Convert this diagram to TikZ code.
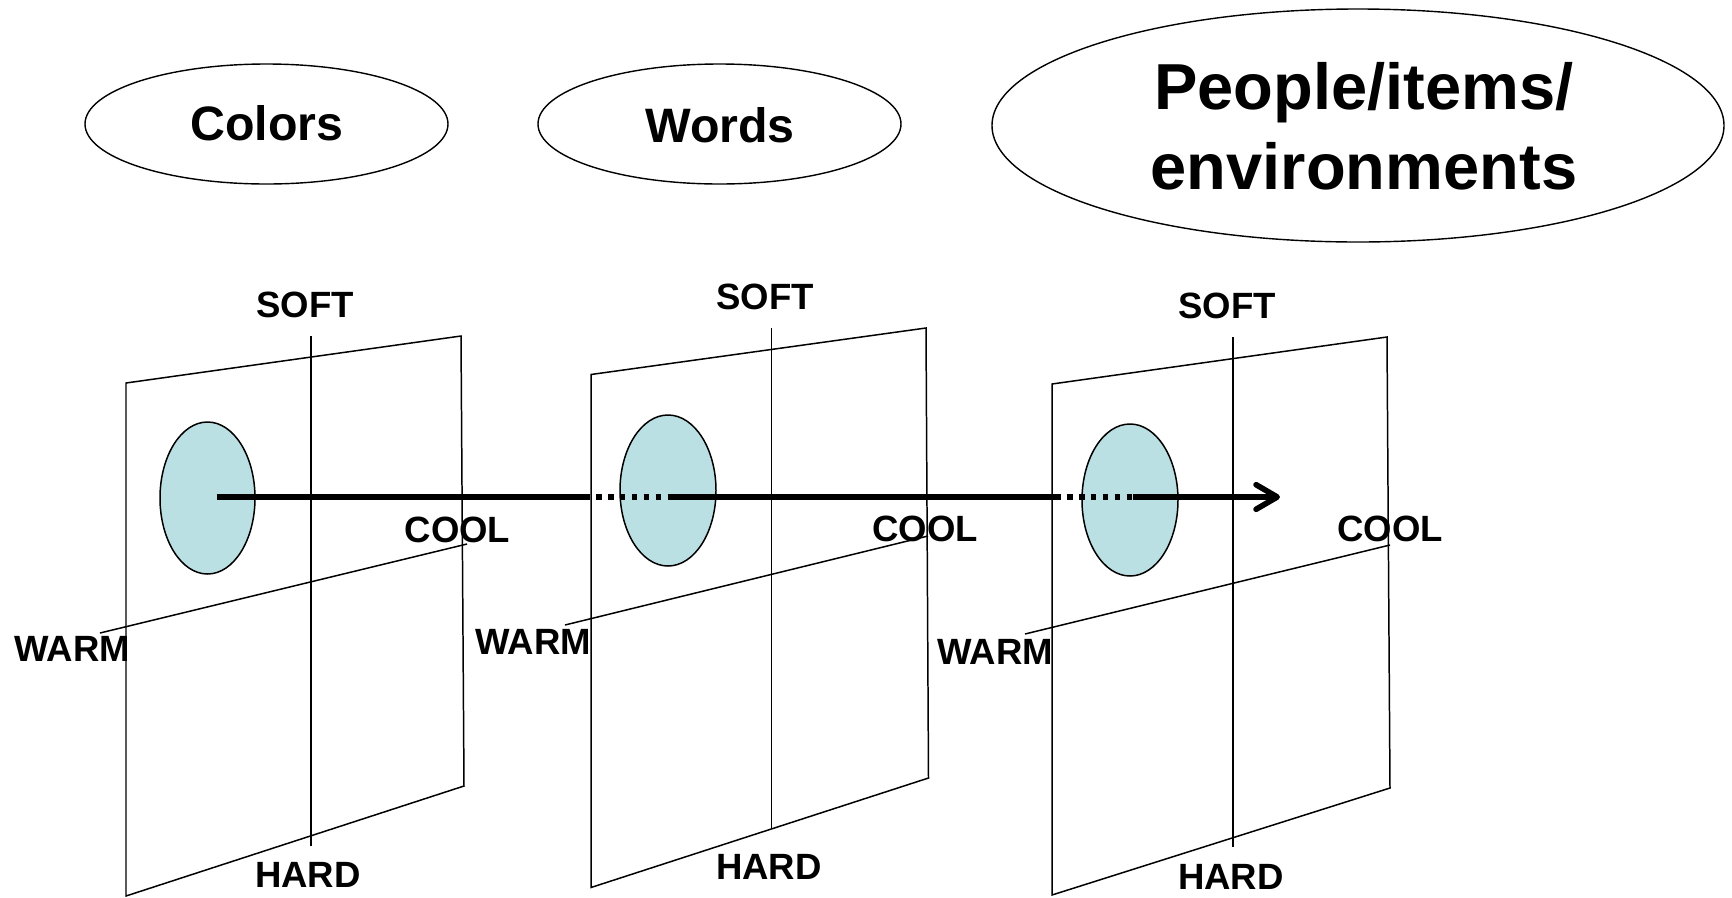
\documentclass[tikz,border=0pt]{standalone}
\usepackage{fontspec}
\setmainfont{Liberation Sans}
\usetikzlibrary{arrows.meta}
\definecolor{dotblue}{RGB}{187,224,227}

\begin{document}
\begin{tikzpicture}[scale=0.2]
\tikzstyle{every node}+=[inner sep=0pt]
\tikzstyle{axislabel}=[font=\fontsize{20.8}{25}\selectfont\bfseries]
\tikzstyle{topic}=[font=\fontsize{27.5}{33}\selectfont\bfseries]
\tikzstyle{bigtopic}=[font=\fontsize{37}{45.5}\selectfont\bfseries, align=center]
\tikzstyle{plane}=[black, line width=0.85pt]
\tikzstyle{blob}=[black, line width=0.85pt, fill=dotblue]
\tikzstyle{track}=[black, line width=3.2pt]
\tikzstyle{gap}=[black, line width=3.2pt, dash pattern=on 3.2pt off 3.6pt]
\useasboundingbox (0,0) rectangle (173.2,-89.7);
% topics
\draw [black, line width=0.8pt] (26.65,-12.4) ellipse (18.15 and 6);
\draw (26.7,-12.35) node [topic] (colors) {Colors};
\draw [black, line width=0.8pt] (71.95,-12.4) ellipse (18.15 and 6);
\draw (72.0,-12.55) node [topic] (words) {Words};
\draw [black, line width=0.8pt] (135.8,-12.55) ellipse (36.6 and 11.65);
\draw (136.4,-12.6) node [bigtopic] (people) {People/items/\\environments};
% plane 1
\draw [plane] (12.6,-38.3) -- (46.1,-33.6) -- (46.4,-78.6) -- (12.6,-89.6) -- cycle;
\draw [plane] (31.1,-33.6) -- (31.1,-84.6);
\draw [plane] (10.0,-63.3) -- (46.7,-54.4);
\draw [blob] (20.75,-49.8) ellipse (4.75 and 7.6);
\draw (30.5,-30.5) node [axislabel] (soft1) {SOFT};
\draw (45.75,-52.95) node [axislabel] (cool1) {COOL};
\draw (7.2,-64.85) node [axislabel] (warm1) {WARM};
\draw (30.8,-87.45) node [axislabel] (hard1) {HARD};
% plane 2
\draw [plane] (59.1,-37.45) -- (92.6,-32.8) -- (92.85,-77.8) -- (59.1,-88.75) -- cycle;
\draw [plane] (77.15,-32.8) -- (77.15,-82.8);
\draw [plane] (56.5,-62.5) -- (92.8,-53.6);
\draw [blob] (66.8,-49.05) ellipse (4.8 and 7.55);
\draw (76.5,-29.7) node [axislabel] (soft2) {SOFT};
\draw (92.5,-52.9) node [axislabel] (cool2) {COOL};
\draw (53.3,-64.2) node [axislabel] (warm2) {WARM};
\draw (76.9,-86.7) node [axislabel] (hard2) {HARD};
% plane 3
\draw [plane] (105.2,-38.4) -- (138.7,-33.7) -- (139.0,-78.8) -- (105.2,-89.5) -- cycle;
\draw [plane] (123.3,-33.7) -- (123.3,-84.7);
\draw [plane] (102.5,-63.4) -- (139.0,-54.5);
\draw [blob] (113.0,-50.0) ellipse (4.8 and 7.6);
\draw (122.7,-30.6) node [axislabel] (soft3) {SOFT};
\draw (139.0,-52.85) node [axislabel] (cool3) {COOL};
\draw (99.5,-65.2) node [axislabel] (warm3) {WARM};
\draw (123.1,-87.7) node [axislabel] (hard3) {HARD};
% arrow through the planes
\coordinate (go) at (21.7,-49.7);
\coordinate (b1) at (58.4,-49.7);
\coordinate (e1) at (66.9,-49.7);
\coordinate (b2) at (105.5,-49.7);
\coordinate (e2) at (113.3,-49.7);
\coordinate (tip) at (128.0,-49.7);
\draw [track] (go) -- (b1);
\draw [gap] (b1) -- (e1);
\draw [track] (e1) -- (b2);
\draw [gap] (b2) -- (e2);
\draw [track, -{Straight Barb[length=12pt,width=14pt,round]}] (e2) -- (tip);
\end{tikzpicture}
\end{document}
